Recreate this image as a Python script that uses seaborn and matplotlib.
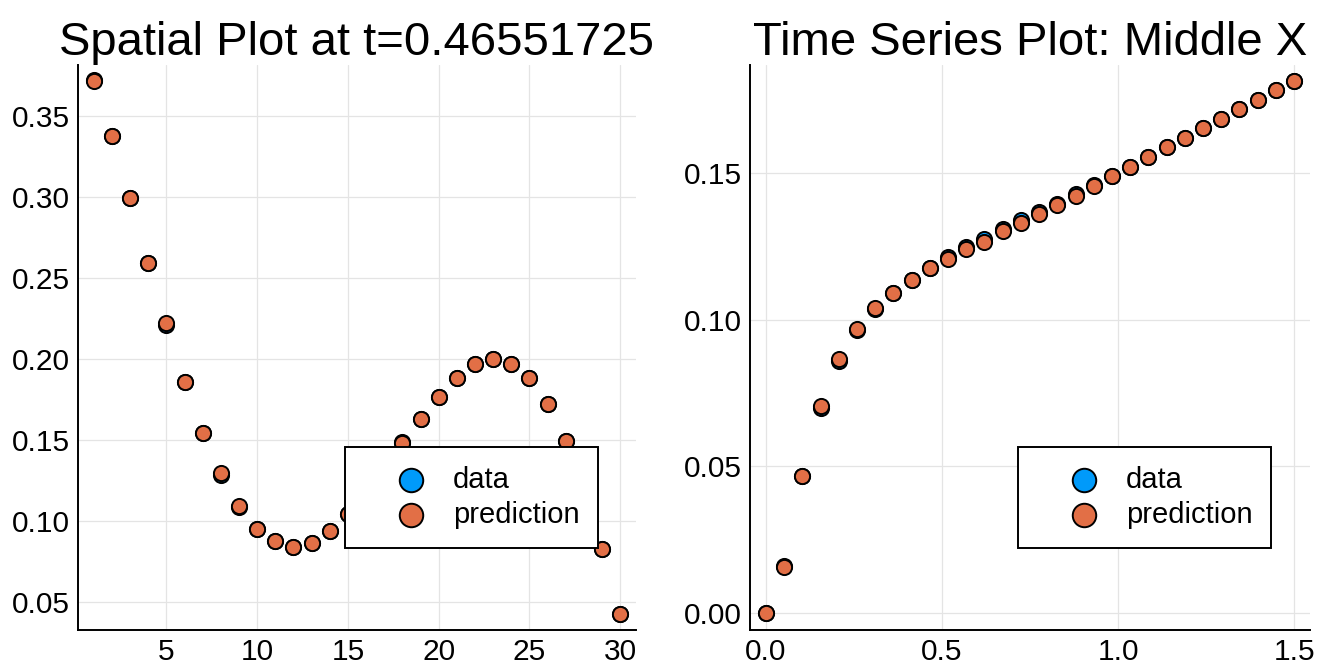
import matplotlib
matplotlib.use("Agg")
import matplotlib.pyplot as plt
import seaborn as sns

# spatial snapshot at t=0.46551725
x_pos = list(range(1, 31))
spatial_data = [0.3725, 0.3376, 0.2997, 0.2594, 0.2212, 0.1856, 0.1543, 0.1285, 0.1083, 0.0950,
                0.0871, 0.0840, 0.0864, 0.0938, 0.1043, 0.1170, 0.1320, 0.1483, 0.1630, 0.1766,
                0.1882, 0.1968, 0.1999, 0.1968, 0.1880, 0.1720, 0.1490, 0.1180, 0.0826, 0.0423]
spatial_pred = [0.3717, 0.3376, 0.2997, 0.2594, 0.2222, 0.1856, 0.1543, 0.1292, 0.1090, 0.0950,
                0.0871, 0.0840, 0.0864, 0.0938, 0.1043, 0.1170, 0.1320, 0.1478, 0.1627, 0.1763,
                0.1880, 0.1968, 0.1999, 0.1968, 0.1880, 0.1720, 0.1490, 0.1180, 0.0826, 0.0423]

# time series at the middle x
t_vals = [0.0, 0.0517, 0.1034, 0.1552, 0.2069, 0.2586, 0.3103, 0.3621, 0.4138, 0.4655,
          0.5172, 0.5690, 0.6207, 0.6724, 0.7241, 0.7759, 0.8276, 0.8793, 0.9310, 0.9828,
          1.0345, 1.0862, 1.1379, 1.1897, 1.2414, 1.2931, 1.3448, 1.3966, 1.4483, 1.5]
ts_data = [0.0000, 0.0160, 0.0467, 0.0700, 0.0860, 0.0963, 0.1035, 0.1091, 0.1135, 0.1176,
           0.1213, 0.1248, 0.1275, 0.1308, 0.1338, 0.1366, 0.1395, 0.1427, 0.1458, 0.1490,
           0.1522, 0.1556, 0.1587, 0.1619, 0.1653, 0.1685, 0.1718, 0.1749, 0.1783, 0.1815]
ts_pred = [0.0000, 0.0157, 0.0467, 0.0706, 0.0866, 0.0969, 0.1040, 0.1091, 0.1135, 0.1176,
           0.1207, 0.1240, 0.1266, 0.1301, 0.1331, 0.1361, 0.1391, 0.1423, 0.1456, 0.1490,
           0.1522, 0.1556, 0.1587, 0.1619, 0.1653, 0.1685, 0.1718, 0.1749, 0.1783, 0.1815]

sns.set_style("white")
plt.rcParams['font.family'] = ['Liberation Sans', 'DejaVu Sans']
plt.rcParams['text.color'] = 'black'
plt.rcParams['axes.titlecolor'] = 'black'

C_DATA = '#009AFA'
C_PRED = '#E26F46'


def style_axes(ax, xlim, ylim, xticks, yticks, xfmt, yfmt, title):
    ax.set_xlim(*xlim)
    ax.set_ylim(*ylim)
    ax.set_xticks(xticks)
    ax.set_yticks(yticks)
    ax.set_xticklabels([xfmt.format(v) for v in xticks])
    ax.set_yticklabels([yfmt.format(v) for v in yticks])
    ax.grid(True, color='#e4e4e4', linewidth=0.9)
    ax.set_axisbelow(True)
    for s in ['top', 'right']:
        ax.spines[s].set_visible(False)
    for s in ['left', 'bottom']:
        ax.spines[s].set_color('black')
        ax.spines[s].set_linewidth(1.4)
    ax.tick_params(direction='in', length=5, width=1.4, labelsize=21.5, pad=6,
                   colors='black', labelcolor='black')
    ax.set_xlabel('')
    ax.set_ylabel('')
    ax.set_title(title, fontsize=34, pad=7, color='black')
    leg = ax.legend(loc='lower left', bbox_to_anchor=(0.4785, 0.145), fontsize=21,
                    frameon=True, fancybox=False, edgecolor='black', framealpha=1,
                    markerscale=1.55, borderpad=0.65, handlelength=3.2, handletextpad=-0.15,
                    labelspacing=0.25, borderaxespad=0)
    leg.get_frame().set_linewidth(1.4)
    for txt in leg.get_texts():
        txt.set_color('black')


fig = plt.figure(figsize=(13.28, 6.69), dpi=100)
ax1 = fig.add_axes([0.0587, 0.0583, 0.4202, 0.8445])
ax2 = fig.add_axes([0.5648, 0.0583, 0.4216, 0.8445])

kw = dict(s=119, edgecolor='black', linewidth=1.4, zorder=3)
sns.scatterplot(x=x_pos, y=spatial_data, color=C_DATA, label='data', ax=ax1, **kw)
sns.scatterplot(x=x_pos, y=spatial_pred, color=C_PRED, label='prediction', ax=ax1, **kw)
style_axes(ax1, (0.13, 30.87), (0.0324, 0.3816), [5, 10, 15, 20, 25, 30],
           [0.05, 0.10, 0.15, 0.20, 0.25, 0.30, 0.35], '{:d}', '{:.2f}',
           'Spatial Plot at t=0.46551725')

sns.scatterplot(x=t_vals, y=ts_data, color=C_DATA, label='data', ax=ax2, **kw)
sns.scatterplot(x=t_vals, y=ts_pred, color=C_PRED, label='prediction', ax=ax2, **kw)
style_axes(ax2, (-0.045, 1.545), (-0.0058, 0.1868), [0.0, 0.5, 1.0, 1.5],
           [0.00, 0.05, 0.10, 0.15], '{:.1f}', '{:.2f}',
           'Time Series Plot: Middle X')

fig.savefig('out.png', dpi=100)
